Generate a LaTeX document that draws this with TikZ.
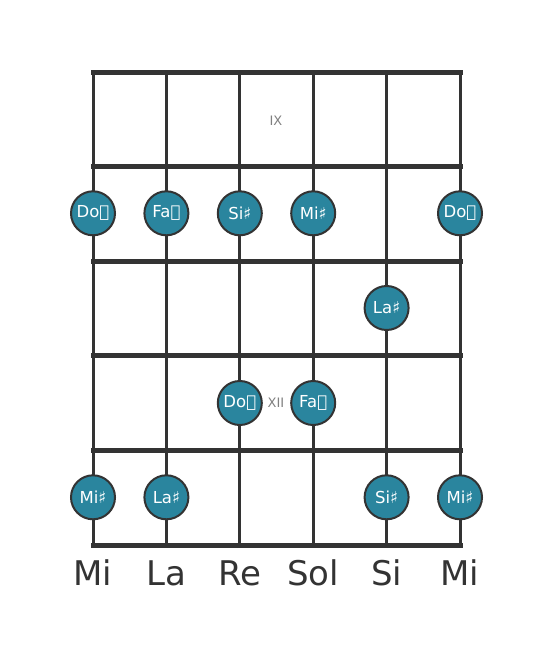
\documentclass[tikz,border=0pt]{standalone}
\usepackage{fontspec}
\setmainfont{DejaVu Sans}
\definecolor{notefill}{HTML}{2A859E}
\definecolor{gridcol}{HTML}{333333}
\tikzset{
  note/.style={circle,draw=gridcol,line width=2pt,fill=notefill,minimum size=44pt,inner sep=0pt,text=white,font=\fontsize{16.5}{16.5}\selectfont},
  fretlbl/.style={text=gray,font=\fontsize{13}{13}\selectfont},
  strlbl/.style={text=gridcol,font=\fontsize{34}{34}\selectfont}
}
\newcommand{\dsharp}{𝄪}
\begin{document}
\begin{tikzpicture}[x=1pt,y=-1pt,line cap=round]
	\useasboundingbox (0,0) rectangle (553,656);
	% strings
	\foreach \s/\x in {1/93,2/166.4,3/239.8,4/313.2,5/386.6,6/460}
	{
	\coordinate (T\s) at (\x,72);
	\coordinate (B\s) at (\x,545);
	\draw[gridcol,line width=3pt] (T\s)--(B\s);
	}
	% frets
	\foreach \y in {72,166.6,261.2,355.8,450.4,545}
	\draw[gridcol,line width=5pt,line cap=rect] (93,\y)--(460,\y);
	\node[fretlbl] (ix) at (276,121) {IX};
	\node[fretlbl] (xii) at (276,403) {XII};
	% notes
	\node[note] (n11) at (93,213.3) {Do\dsharp};
	\node[note] (n12) at (166.4,213.3) {Fa\dsharp};
	\node[note] (n13) at (239.8,213.3) {Si♯};
	\node[note] (n14) at (313.2,213.3) {Mi♯};
	\node[note] (n16) at (460,213.3) {Do\dsharp};
	\node[note] (n25) at (386.6,308) {La♯};
	\node[note] (n33) at (239.8,403) {Do\dsharp};
	\node[note] (n34) at (313.2,403) {Fa\dsharp};
	\node[note] (n41) at (93,497.3) {Mi♯};
	\node[note] (n42) at (166.4,497.3) {La♯};
	\node[note] (n45) at (386.6,497.3) {Si♯};
	\node[note] (n46) at (460,497.3) {Mi♯};
	% string names
	\foreach \s/\n in {1/Mi,2/La,3/Re,4/Sol,5/Si,6/Mi}
	\node[strlbl,anchor=base] (L\s) at ([yshift=-40pt]B\s) {\n};
\end{tikzpicture}
\end{document}
